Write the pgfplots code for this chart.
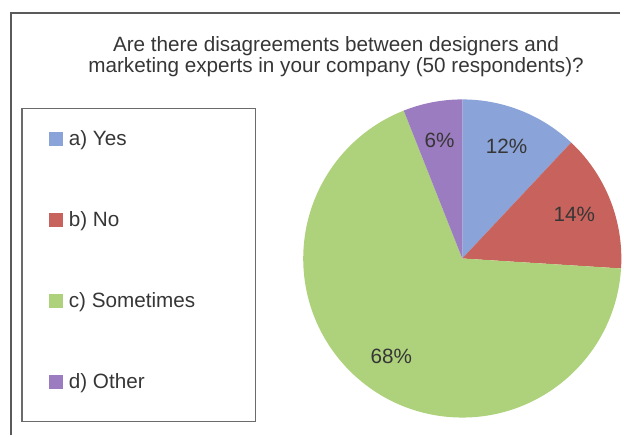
\documentclass[border=0pt]{standalone}
\usepackage{pgfplots}
\usepackage{pgfplotstable}
\pgfplotsset{compat=1.18}
\usepackage{fontspec}
\setmainfont{Liberation Sans}

\definecolor{cYes}{HTML}{8AA3D9}
\definecolor{cNo}{HTML}{C8625C}
\definecolor{cSome}{HTML}{AED27B}
\definecolor{cOther}{HTML}{9C7CC0}
\definecolor{txt}{HTML}{363636}
\definecolor{framec}{HTML}{5A5A5A}

% share of respondents, clockwise from 12 o'clock
\pgfplotstableread{
value color
12 cYes
14 cNo
68 cSome
6 cOther
}\pietable

\begin{document}
\begin{tikzpicture}[font=\fontsize{15.6}{19}\selectfont]
\begin{axis}[
    x=0.75pt, y=0.75pt, y dir=reverse,
    xmin=0, xmax=624, ymin=0, ymax=438,
    hide axis, clip=false,
    legend cell align=left,
    legend image code/.code={\fill[#1, draw=none] (0pt,-5.25pt) rectangle (10.5pt,5.25pt);},
    legend style={
        at={(axis cs:49,131)}, anchor=north west,
        draw=none, fill=none, inner sep=0pt, row sep=48.4pt,
        font=\fontsize{15.6}{19}\selectfont,
        nodes={inner sep=0pt, text=txt},
        /tikz/every odd column/.append style={column sep=4.5pt},
    },
]
\path (axis cs:0,0) rectangle (axis cs:624,438);

% outer frame and legend box
\draw[framec, line width=1.1pt] (axis cs:11,438) -- (axis cs:11,13) -- (axis cs:624,13);
\draw[framec!90, line width=1.1pt] (axis cs:22,109) rectangle (axis cs:257,424);

% title
\node[anchor=base, text=txt] at (axis cs:338,52) {Are there disagreements between designers and};
\node[anchor=base, text=txt] at (axis cs:338,73) {marketing experts in your company (50 respondents)?};

% pie wedges from the table
\pgfplotsextra{
  \gdef\startangle{90}
  \foreach \i in {0,...,3}{
    \pgfplotstablegetelem{\i}{value}\of\pietable \let\val\pgfplotsretval
    \pgfplotstablegetelem{\i}{color}\of\pietable \let\col\pgfplotsretval
    \pgfmathsetmacro\endangle{\startangle-3.6*\val}
    \pgfmathsetmacro\midangle{(\startangle+\endangle)/2}
    \fill[fill=\col] (axis cs:465,260) -- ++(\startangle:120pt)
        arc[start angle=\startangle, end angle=\endangle, radius=120pt] -- cycle;
    \node[text=txt] at ([shift={(\midangle:91pt)}]axis cs:465,260) {\val\%};
    \xdef\startangle{\endangle}
  }
}

\addlegendimage{fill=cYes}
\addlegendentry{a) Yes}
\addlegendimage{fill=cNo}
\addlegendentry{b) No}
\addlegendimage{fill=cSome}
\addlegendentry{c) Sometimes}
\addlegendimage{fill=cOther}
\addlegendentry{d) Other}
\end{axis}
\end{tikzpicture}
\end{document}
